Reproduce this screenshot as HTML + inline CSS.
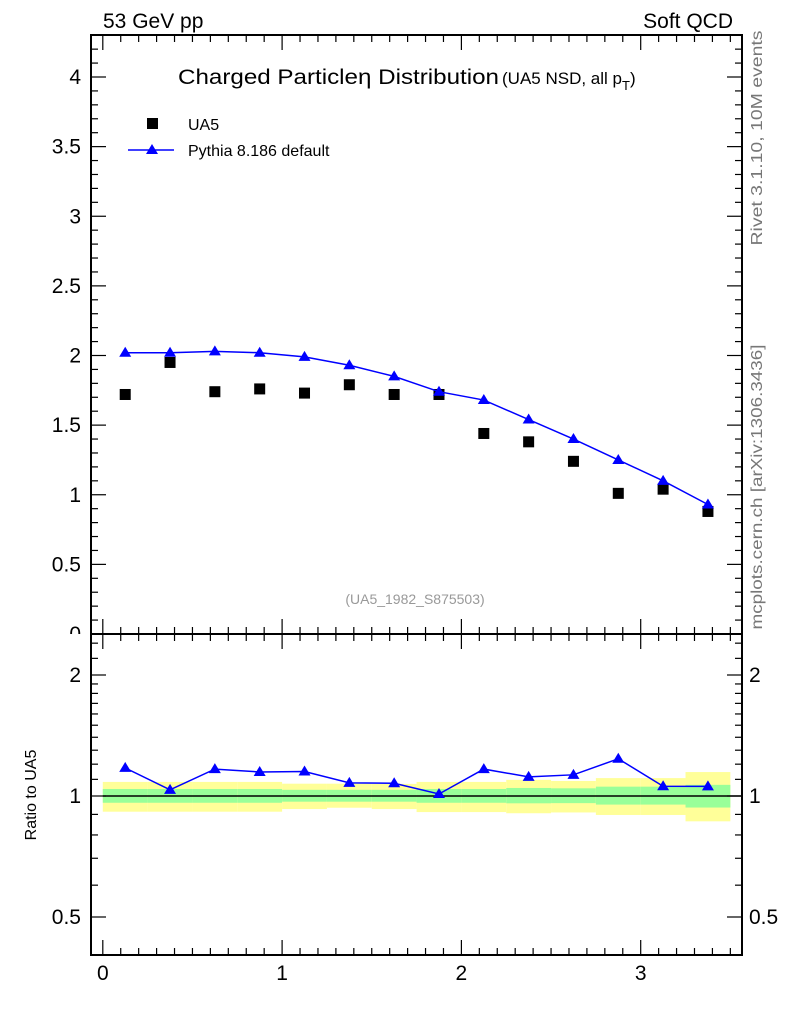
<!DOCTYPE html>
<html><head><meta charset="utf-8"><style>
html,body{margin:0;padding:0;background:#fff;}
svg{display:block;font-family:"Liberation Sans",sans-serif;}
</style></head><body>
<svg id="chart" width="786" height="1024" viewBox="0 0 786 1024">
<defs><clipPath id="mainclip"><rect x="0" y="0" width="786" height="634"/></clipPath></defs>
<text x="103" y="28" font-size="21">53 GeV pp</text>
<text x="733" y="28" font-size="21" text-anchor="end">Soft QCD</text>
<text x="178" y="84" font-size="21" textLength="321" lengthAdjust="spacingAndGlyphs">Charged Particleη Distribution</text>
<text x="502" y="84" font-size="17">(UA5 NSD, all p<tspan font-size="13" dy="6">T</tspan><tspan dy="-6">)</tspan></text>
<text x="762" y="138" font-size="16" fill="#777" text-anchor="middle" textLength="215" lengthAdjust="spacingAndGlyphs" transform="rotate(-90 762 138)">Rivet 3.1.10,  10M events</text>
<text x="762" y="487" font-size="16" fill="#777" text-anchor="middle" textLength="285" lengthAdjust="spacingAndGlyphs" transform="rotate(-90 762 487)">mcplots.cern.ch [arXiv:1306.3436]</text>
<text x="415" y="604" font-size="14" fill="#999" text-anchor="middle">(UA5_1982_S875503)</text>
<text x="36" y="795" font-size="16" text-anchor="middle" transform="rotate(-90 36 795)">Ratio to UA5</text>
<g>
<rect x="147" y="118" width="11" height="11" fill="#000"/>
<text x="188" y="130" font-size="16">UA5</text>
<line x1="128" y1="150" x2="174" y2="150" stroke="#00f" stroke-width="1.5"/>
<polygon points="152,144 146,154 158,154" fill="#00f"/>
<text x="188" y="156" font-size="16">Pythia 8.186 default</text>
</g>
<g id="main" clip-path="url(#mainclip)"></g>
<g id="ratio"></g>
<g id="axes"></g>
</svg>
<script>
const binEdges = [0,0.25,0.5,0.75,1,1.25,1.5,1.75,2,2.25,2.5,2.75,3,3.25,3.5];
const etaCenters = [0.125,0.375,0.625,0.875,1.125,1.375,1.625,1.875,2.125,2.375,2.625,2.875,3.125,3.375];
const ua5Values = [1.72,1.95,1.74,1.76,1.73,1.79,1.72,1.72,1.44,1.38,1.24,1.01,1.04,0.88];
const pythiaValues = [2.02,2.02,2.03,2.02,1.99,1.93,1.85,1.74,1.68,1.54,1.40,1.25,1.10,0.93];
const totErrUp = [0.084,0.084,0.084,0.084,0.073,0.073,0.072,0.084,0.084,0.097,0.09,0.108,0.108,0.147];
const totErrDn = [0.086,0.086,0.086,0.086,0.072,0.065,0.072,0.088,0.088,0.094,0.09,0.103,0.103,0.135];
const statErrUp = [0.041,0.041,0.041,0.041,0.036,0.036,0.036,0.041,0.041,0.047,0.045,0.055,0.055,0.066];
const statErrDn = [0.038,0.038,0.038,0.038,0.032,0.032,0.032,0.038,0.038,0.041,0.04,0.048,0.048,0.064];
const mainTicks = ["0","0.5","1","1.5","2","2.5","3","3.5","4"];
const ratioTicks = ["0.5","1","2"];
const xTicks = ["0","1","2","3"];

const NS="http://www.w3.org/2000/svg";
const L=91,R=742,MT=35,MB=634,RT=634,RB=955;
const X=v=>102.8+v*179.3;
const Y=v=>634-v*139.25;
const RY=v=>796-121*Math.log2(v);
function mk(p,t,a){const e=document.createElementNS(NS,t);for(const k in a)e.setAttribute(k,a[k]);p.appendChild(e);return e;}
const main=document.getElementById('main'),ratio=document.getElementById('ratio'),axes=document.getElementById('axes');

for(let i=0;i<ua5Values.length;i++){
 const r=mk(main,'rect',{x:X(etaCenters[i])-5.5,y:Y(ua5Values[i])-5.5,width:11,height:11,fill:'#000'});
 
 
}
const pl=mk(main,'polyline',{points:etaCenters.map((c,i)=>X(c)+','+Y(pythiaValues[i])).join(' '),fill:'none',stroke:'#00f','stroke-width':1.5});


for(let i=0;i<pythiaValues.length;i++){
 const x=X(etaCenters[i]),y=Y(pythiaValues[i]);
 const t=mk(main,'polygon',{points:`${x},${y-6} ${x-6},${y+4} ${x+6},${y+4}`,fill:'#00f'});
 
 
}

for(let i=0;i<etaCenters.length;i++){
 const x0=X(binEdges[i]),x1=X(binEdges[i+1]);
 const yb=mk(ratio,'rect',{x:x0,y:RY(1+totErrUp[i]),width:x1-x0,height:RY(1-totErrDn[i])-RY(1+totErrUp[i]),fill:'#ffff99'});
 
 
 const gb=mk(ratio,'rect',{x:x0,y:RY(1+statErrUp[i]),width:x1-x0,height:RY(1-statErrDn[i])-RY(1+statErrUp[i]),fill:'#99ff99'});
 
 
}
const one=mk(ratio,'line',{x1:X(0),x2:R,y1:RY(1),y2:RY(1),stroke:'#000','stroke-width':1.5});


const ratios=pythiaValues.map((p,i)=>p/ua5Values[i]);
const rl=mk(ratio,'polyline',{points:etaCenters.map((c,i)=>X(c)+','+RY(ratios[i])).join(' '),fill:'none',stroke:'#00f','stroke-width':1.5});


for(let i=0;i<ratios.length;i++){
 const x=X(etaCenters[i]),y=RY(ratios[i]);
 const t=mk(ratio,'polygon',{points:`${x},${y-6} ${x-6},${y+4} ${x+6},${y+4}`,fill:'#00f'});
 
 
}

const f1=mk(axes,'rect',{x:L,y:MT,width:R-L,height:MB-MT,fill:'none',stroke:'#000','stroke-width':2});


const f2=mk(axes,'rect',{x:L,y:RT,width:R-L,height:RB-RT,fill:'none',stroke:'#000','stroke-width':2});


function tk(x1,y1,x2,y2){mk(axes,'line',{x1,y1,x2,y2,stroke:'#000','stroke-width':1.2});}
for(let k=0;k<=35;k++){
 const v=k/10,x=X(v);if(x>R-1)break;
 const len=(k%10===0)?15:7;
 for(const [yt,yb] of [[MT,MB],[RT,RB]]){tk(x,yt,x,yt+len);tk(x,yb,x,yb-len);}
}
xTicks.forEach(s=>{const t=mk(axes,'text',{x:X(+s),y:980,'font-size':21,'text-anchor':'middle'});t.textContent=s;
 
 });
for(let k=0;k<=43;k++){
 const v=k/10,y=Y(v);const len=(k%5===0)?15:7;
 tk(L,y,L+len,y);tk(R,y,R-len,y);
}
const mg=mk(axes,'g',{'clip-path':'url(#mainclip)'});
mainTicks.forEach(s=>{const t=mk(mg,'text',{x:81,y:Y(+s)+7,'font-size':21,'text-anchor':'end'});t.textContent=s;
 
 });
const rv=[];for(let v=0.5;v<=2.001;v+=0.1)rv.push(+v.toFixed(1));rv.push(2.2,2.4);
rv.forEach(v=>{const y=RY(v);if(y<RT+1||y>RB-1)return;const len=([0.5,1,2].includes(v))?15:7;tk(L,y,L+len,y);tk(R,y,R-len,y);});
ratioTicks.forEach(s=>{const y=RY(+s)+7;
 const t=mk(axes,'text',{x:81,y,'font-size':21,'text-anchor':'end'});t.textContent=s;
 
 
 const t2=mk(axes,'text',{x:749,y,'font-size':21});t2.textContent=s;
 
 });
</script>
</body></html>
